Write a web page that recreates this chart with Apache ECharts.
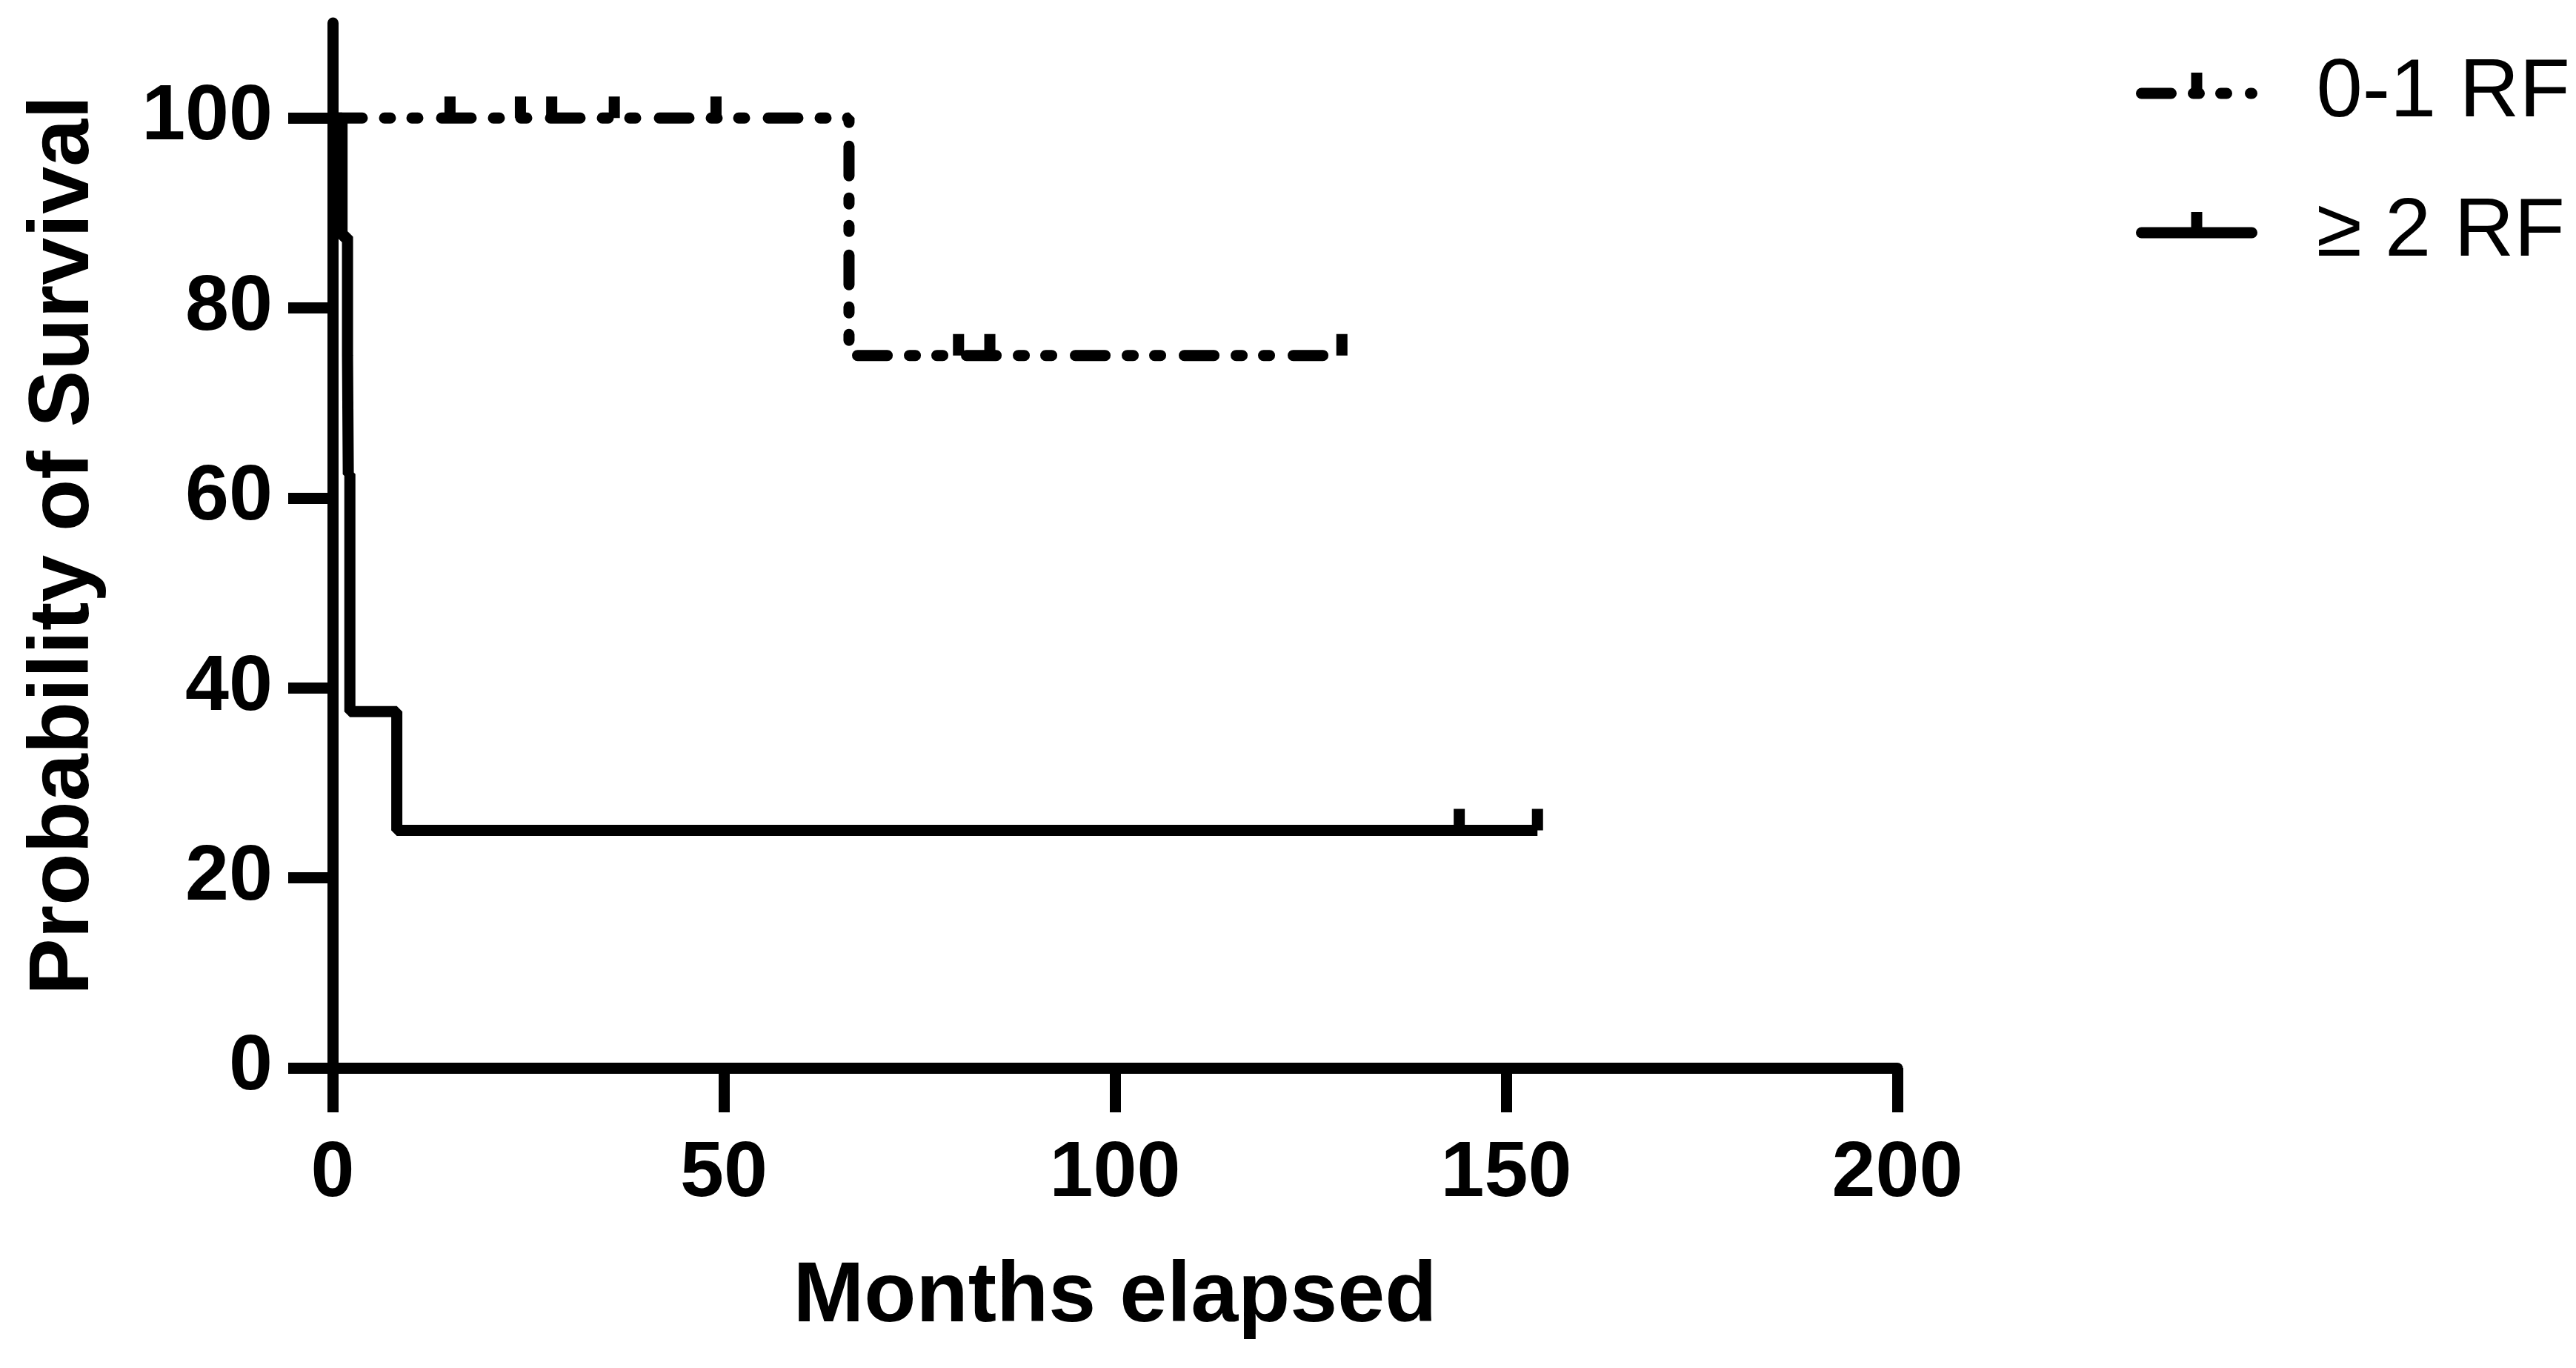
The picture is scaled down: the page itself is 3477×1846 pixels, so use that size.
<!DOCTYPE html>
<html>
<head>
<meta charset="utf-8">
<script src="https://cdn.jsdelivr.net/npm/echarts@6/dist/echarts.min.js"></script>
<style>
  html, body { margin: 0; padding: 0; background: #fff; }
  #chart { width: 3477px; height: 1846px; }
</style>
</head>
<body>
<div id="chart"></div>
<script>
const groupNames = ["0-1 RF", "≥ 2 RF"];

// 0-1 RF: step points (months, % surviving after the step)
const lowTimes = [0, 66, 129];
const lowSurvival = [100, 75, 75];
const lowCensorTimes = [15, 24, 28, 36, 49, 80, 84, 129];
const lowCensorSurvival = [100, 100, 100, 100, 100, 75, 75, 75];

// >= 2 RF
const highTimes = [0, 1.2, 1.9, 2.0, 2.2, 8.2, 154];
const highSurvival = [100, 87.5, 75, 62.5, 37.5, 25, 25];
const highCensorTimes = [144, 154];
const highCensorSurvival = [25, 25];

const xTicks = [0, 50, 100, 150, 200];
const yTicks = [0, 20, 40, 60, 80, 100];

const font = "Liberation Sans, Arial, sans-serif";
// censor tick: bar sitting on top of the point (extra moveTo points pad the box)
const censorMark = "path://M36.6,0L63.4,0L63.4,50L36.6,50Z M0,100 M100,100";

const pairs = (xs, ys) => xs.map((x, i) => [x, ys[i]]);

const chart = echarts.init(document.getElementById("chart"));
chart.setOption({
  animation: false,
  backgroundColor: "#fff",
  grid: { left: 449, right: 916, top: 31, bottom: 405, outerBoundsMode: "none" },
  legend: {
    orient: "vertical",
    left: 2883,
    top: 70,
    padding: 0,
    itemWidth: 149,
    itemHeight: 70,
    itemGap: 76,
    selectedMode: false,
    data: groupNames,
    lineStyle: { width: 15, cap: "round" },
    textStyle: { fontSize: 112, color: "#000", fontFamily: font, padding: [0, 0, 0, 82] },
  },
  xAxis: {
    type: "value",
    min: 0,
    max: 200,
    interval: 50,
    name: "Months elapsed",
    nameLocation: "middle",
    nameGap: 253,
    nameTextStyle: { fontSize: 115, fontWeight: "bold", color: "#000", fontFamily: font },
    axisLine: { lineStyle: { color: "#000", width: 15 } },
    axisTick: { length: 60, lineStyle: { color: "#000", width: 15 }, customValues: xTicks },
    axisLabel: { fontSize: 106, fontWeight: "bold", color: "#000", fontFamily: font, margin: 91, customValues: xTicks },
    splitLine: { show: false },
  },
  yAxis: {
    type: "value",
    min: 0,
    max: 110,
    interval: 20,
    name: "Probability of Survival",
    nameLocation: "middle",
    nameGap: 304,
    nameTextStyle: { fontSize: 115, fontWeight: "bold", color: "#000", fontFamily: font },
    axisLine: { show: true, lineStyle: { color: "#000", width: 15 } },
    axisTick: { show: true, length: 60, lineStyle: { color: "#000", width: 15 }, customValues: yTicks },
    axisLabel: { fontSize: 106, fontWeight: "bold", color: "#000", fontFamily: font, margin: 81, customValues: yTicks },
    splitLine: { show: false },
  },
  series: [
    {
      name: groupNames[0],
      type: "line",
      step: "end",
      data: pairs(lowTimes, lowSurvival),
      symbol: censorMark,
      showSymbol: false,
      silent: true,
      itemStyle: { color: "#000" },
      lineStyle: { color: "#000", width: 15, type: [40, 30, 8, 29, 8, 32], cap: "round" },
      z: 3,
    },
    {
      name: groupNames[1],
      type: "line",
      step: "end",
      data: pairs(highTimes, highSurvival),
      symbol: censorMark,
      showSymbol: false,
      silent: true,
      itemStyle: { color: "#000" },
      lineStyle: { color: "#000", width: 15 },
      z: 3,
    },
    {
      name: "0-1 RF censored",
      type: "scatter",
      data: pairs(lowCensorTimes, lowCensorSurvival),
      symbol: censorMark,
      symbolSize: [56, 58],
      silent: true,
      itemStyle: { color: "#000", opacity: 1 },
      z: 4,
    },
    {
      name: "≥ 2 RF censored",
      type: "scatter",
      data: pairs(highCensorTimes, highCensorSurvival),
      symbol: censorMark,
      symbolSize: [56, 58],
      silent: true,
      itemStyle: { color: "#000", opacity: 1 },
      z: 4,
    },
  ],
});
</script>
</body>
</html>
